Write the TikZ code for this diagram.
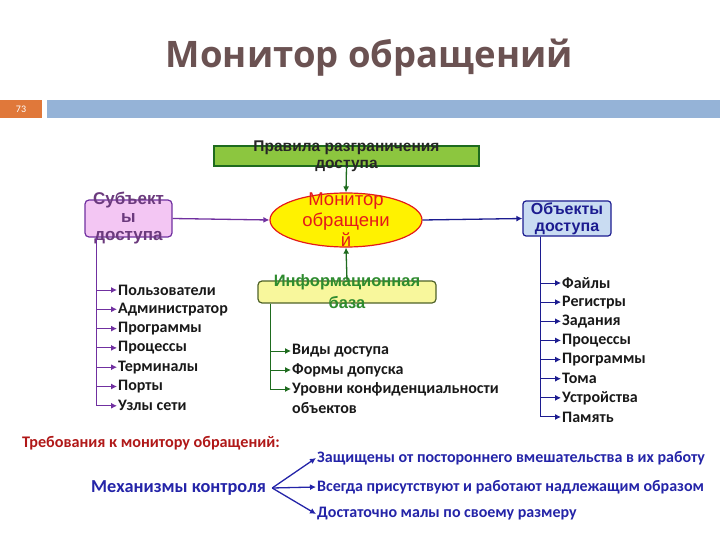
\documentclass[tikz,border=0pt]{standalone}
\usepackage{fontspec}
\setmainfont{Carlito}
\newfontfamily\boxfont{Liberation Sans}
\newfontfamily\headfont{Open Sans}
\usetikzlibrary{arrows.meta,positioning,shapes.geometric,calc}
\definecolor{headgray}{HTML}{6B5252}
\definecolor{numorange}{HTML}{E0783A}
\definecolor{barblue}{HTML}{95B3D7}
\definecolor{rulegreen}{HTML}{8CC63F}
\definecolor{deepgreen}{HTML}{1E6B1E}
\definecolor{basefill}{HTML}{F8F79C}
\definecolor{baseline}{HTML}{4F6228}
\definecolor{basetext}{HTML}{2E8B2E}
\definecolor{subfill}{HTML}{F3C6F3}
\definecolor{subline}{HTML}{7030A0}
\definecolor{subtext}{HTML}{6B3A7D}
\definecolor{objfill}{HTML}{C9DCF2}
\definecolor{objblue}{HTML}{1C1C90}
\definecolor{monred}{HTML}{E41A1A}
\definecolor{reqred}{HTML}{B01818}
\definecolor{mechblue}{HTML}{2424A8}

\begin{document}
\begin{tikzpicture}[x=1pt,y=-1pt,
  item/.style={anchor=west, inner sep=1pt, text=black!90, font=\fontsize{16}{18}\selectfont\bfseries},
  tip/.style={-{Latex[length=6pt,width=6pt]}, line width=1.3pt},
  req/.style={anchor=west, inner sep=1pt, text=mechblue, font=\fontsize{16}{18}\selectfont\bfseries}]
  \useasboundingbox (0,0) rectangle (720,540);
  % heading and slide bar
  \node[text=headgray, font=\fontsize{36.5}{40}\selectfont\headfont\bfseries] (title) at (369.5,58) {Монитор обращений};
  \node[fill=numorange, minimum width=42, minimum height=18, inner sep=0, text=white, font=\fontsize{10}{11}\selectfont] (pagenum) at (21,109) {73};
  \node[fill=barblue, minimum width=673, minimum height=18, inner sep=0] (bar) at (383.5,109) {};

  % central part
  \node[draw=deepgreen, fill=rulegreen, line width=1.2pt, minimum width=265, minimum height=20, inner sep=0] (rules) at (346.5,156) {};
  \node[align=center, font=\fontsize{15.5}{17}\selectfont\boxfont\bfseries, text=black!85] (rulestext) at (rules.center) {Правила разграничения\\доступа};
  \node[draw=monred, fill=yellow, ellipse, line width=1.2pt, minimum width=152, minimum height=54, inner sep=0] (monitor) at (346,220) {};
  \node[align=center, font=\fontsize{18.5}{20.5}\selectfont\boxfont, text=monred] (montext) at (monitor.center) {Монитор\\обращени\\й};
  \node[draw=subline, fill=subfill, rounded corners=4pt, line width=1.2pt, minimum width=87, minimum height=37, inner sep=0] (subj) at (128.5,218.5) {};
  \node[align=center, font=\fontsize{17}{18}\selectfont\boxfont\bfseries, text=subtext] (subjtext) at (subj.center) {Субъект\\ы\\доступа};
  \node[draw=objblue, fill=objfill, rounded corners=3pt, line width=1.2pt, minimum width=88, minimum height=35, inner sep=0, align=center, font=\fontsize{16}{17}\selectfont\boxfont\bfseries, text=objblue] (obj) at (567,218.5) {Объекты\\доступа};
  \node[draw=baseline, fill=basefill, rounded corners=4pt, line width=1.2pt, minimum width=178, minimum height=22, inner sep=0] (infobase) at (347,292) {};
  \node[align=center, font=\fontsize{16.5}{22}\selectfont\boxfont\bfseries, text=basetext] (basetext) at (infobase.center) {Информационная\\база};

  \draw[tip, deepgreen] (rules.south) -- (monitor.north);
  \draw[tip, deepgreen] (infobase.north) -- (monitor.south);
  \draw[tip, subline] (subj.east) -- (monitor.west);
  \draw[tip, objblue] (monitor.east) -- (obj.west);

  % subjects
  \coordinate (sv) at ([xshift=12pt]subj.south west);
  \foreach \name [count=\i] in {Пользователи,Администратор,Программы,Процессы,Терминалы,Порты,Узлы сети} {
    \node[item] (s\i) at (117,{290+19.3*(\i-1)}) {\name};
    \draw[tip, subline, line width=1pt] (sv) |- (s\i.west);
  }
  % objects
  \coordinate (ov) at ([xshift=18pt]obj.south west);
  \foreach \name [count=\i] in {Файлы,Регистры,Задания,Процессы,Программы,Тома,Устройства,Память} {
    \node[item] (o\i) at (561,{283+19.14*(\i-1)}) {\name};
    \draw[tip, objblue, line width=1pt] (ov) |- (o\i.west);
  }
  % information base
  \coordinate (bv) at ([xshift=13pt]infobase.south west);
  \foreach \name [count=\i] in {Виды доступа,Формы допуска,Уровни конфиденциальности} {
    \node[item] (b\i) at (291,{351+19*(\i-1)}) {\name};
    \draw[tip, deepgreen, line width=1pt] (bv) |- (b\i.west);
  }
  \node[item] (b4) at (291,408) {объектов};

  % requirements
  \node[anchor=west, inner sep=1pt, text=reqred, font=\fontsize{16.2}{18}\selectfont\bfseries] (req) at (21,443) {Требования к монитору обращений:};
  \node[anchor=west, inner sep=1pt, text=mechblue, font=\fontsize{18.3}{20}\selectfont\bfseries] (mech) at (90,488) {Механизмы контроля};
  \node[req] (m1) at (316,458) {Защищены от постороннего вмешательства в их работу};
  \node[req] (m2) at (316,487) {Всегда присутствуют и работают надлежащим образом};
  \node[req] (m3) at (316,514) {Достаточно малы по своему размеру};
  \foreach \i in {1,2,3}
    \draw[tip, mechblue] ([xshift=5pt]mech.east) -- (m\i.west);
\end{tikzpicture}
\end{document}
